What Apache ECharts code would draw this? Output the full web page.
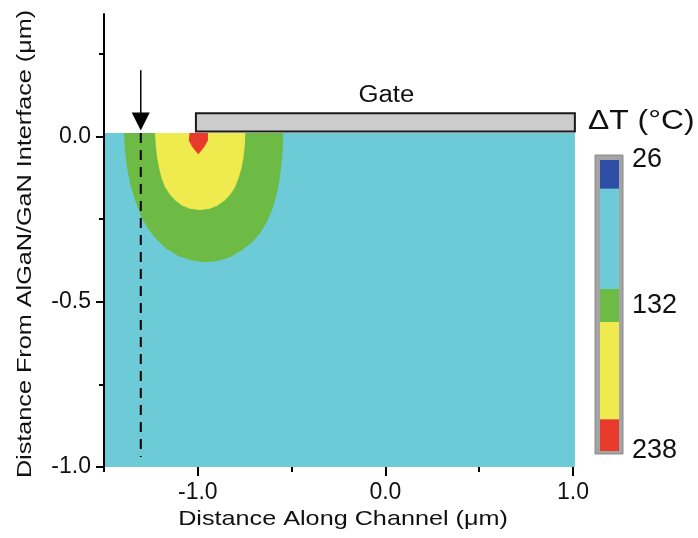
<!DOCTYPE html>
<html><head><meta charset="utf-8">
<script src="https://cdn.jsdelivr.net/npm/echarts@6/dist/echarts.min.js"></script>
<style>html,body{margin:0;padding:0;background:#fff}#c{width:698px;height:538px}</style>
</head><body><div id="c"></div>
<script>
// ---------- data ----------
const xRange = [-1.5, 1.0];
const yRange = [-1.0, 0.37];
const xTickValues = [-1.5, -1.0, -0.5, 0.0, 0.5, 1.0];
const xLabelValues = [-1.0, 0.0, 1.0];
const yTickValues = [-1.0, -0.75, -0.5, -0.25, 0.0, 0.25];
const yLabelValues = [-1.0, -0.5, 0.0];
const xTitle = 'Distance Along Channel (\u03bcm)';
const yTitle = 'Distance From AlGaN/GaN Interface (\u03bcm)';

// channel (lowest temperature band fills the whole GaN region)
const channelX = [-1.5, 1.01];
const channelY = [-1.0, 0.01];

// contour boundaries [x (um), depth (um)]
const greenBoundary = [
  [-1.3926,0.01],[-1.3883,-0.0423],[-1.3776,-0.0937],[-1.3589,-0.1480],[-1.3348,-0.1934],[-1.3053,-0.2387],
  [-1.2678,-0.2779],[-1.2250,-0.3082],[-1.1714,-0.3384],[-1.1071,-0.3610],[-1.0375,-0.3746],[-0.9679,-0.3807],
  [-0.8982,-0.3776],[-0.8286,-0.3656],[-0.7643,-0.3444],[-0.7108,-0.3202],[-0.6679,-0.2931],[-0.6358,-0.2628],
  [-0.6090,-0.2296],[-0.5876,-0.1934],[-0.5688,-0.1480],[-0.5554,-0.0937],[-0.5474,-0.0423],[-0.5447,0.01]];
const yellowBoundary = [
  [-1.2287,0.01],[-1.2239,-0.0272],[-1.2169,-0.0634],[-1.2062,-0.0967],[-1.1928,-0.1269],[-1.1741,-0.1541],
  [-1.1500,-0.1752],[-1.1205,-0.1934],[-1.0857,-0.2085],[-1.0428,-0.2190],[-0.9893,-0.2230],[-0.9357,-0.2190],
  [-0.8929,-0.2085],[-0.8554,-0.1934],[-0.8259,-0.1752],[-0.8018,-0.1541],[-0.7831,-0.1269],[-0.7670,-0.0967],
  [-0.7563,-0.0634],[-0.7493,-0.0272],[-0.7467,0.01]];
const redBoundary = [[-1.044,0.01],[-1.048,-0.012],[-1.032,-0.030],[-1.011,-0.045],[-0.997,-0.054],[-0.984,-0.045],[-0.963,-0.030],[-0.946,-0.012],[-0.946,0.01]];

// gate
const gateX = [-1.01, 1.01];
const gateY = [0.015, 0.07];
const gateLabel = 'Gate';

// probe position (arrow + dashed line)
const probeX = -1.304;
const arrowY = [0.2, 0.018];
const dashY = [0.01, -0.97];

// colour bar
const cbRange = [26, 238];
const cbBreaks = [26, 47, 120, 144, 215, 238];
const cbTickValues = [26, 132, 238];
const cbTitle = '\u0394T (\u00b0C)';
const panelLabel = '(b)';

// ---------- styles ----------
const C_BLUE = '#2f4fa7', C_CYAN = '#6ccbd7', C_GREEN = '#6dbb45', C_YELLOW = '#efea4e', C_RED = '#e83a2a';
const cbColors = [C_BLUE, C_CYAN, C_GREEN, C_YELLOW, C_RED];
const FONT = 'Liberation Sans, Arial, Helvetica, sans-serif';

function polySeries(points, color, z) {
  return {
    type: 'custom', xAxisIndex: 0, yAxisIndex: 0, z: z, silent: true,
    data: [points[0]],
    renderItem: function (params, api) {
      return { type: 'polygon', shape: { points: points.map(p => api.coord(p)) }, style: { fill: color } };
    }
  };
}

const tickStyle = { color: '#000', width: 2 };
const chart = echarts.init(document.getElementById('c'), null, { renderer: 'canvas' });
const option = {
  animation: false,
  backgroundColor: '#fff',
  textStyle: { fontFamily: FONT },
  grid: [
    { left: 104, right: 125, top: 14, bottom: 71 },
    { left: 600, width: 19, top: 160, height: 291 }
  ],
  xAxis: [
    { gridIndex: 0, type: 'value', min: xRange[0], max: xRange[1], position: 'bottom', z: 10,
      axisLine: { show: false, onZero: false },
      axisTick: { show: true, customValues: xTickValues, length: 5, lineStyle: tickStyle },
      axisLabel: { customValues: xLabelValues, formatter: v => v.toFixed(1), fontSize: 23, color: '#111', margin: 14, fontFamily: FONT },
      splitLine: { show: false } },
    { gridIndex: 0, type: 'value', min: xRange[0], max: xRange[1], position: 'bottom', z: 10,
      axisLine: { show: false, onZero: false },
      axisTick: { show: true, customValues: xLabelValues, length: 9, lineStyle: tickStyle },
      axisLabel: { show: false }, splitLine: { show: false } },
    { gridIndex: 1, type: 'value', min: 0, max: 1, show: false }
  ],
  yAxis: [
    { gridIndex: 0, type: 'value', min: yRange[0], max: yRange[1], position: 'left', z: 10,
      axisLine: { show: true, onZero: false, lineStyle: { color: '#000', width: 2 } },
      axisTick: { show: true, customValues: yTickValues, length: 5, lineStyle: tickStyle },
      axisLabel: { customValues: yLabelValues, formatter: v => v.toFixed(1), fontSize: 23, color: '#111', margin: 13, fontFamily: FONT },
      splitLine: { show: false } },
    { gridIndex: 0, type: 'value', min: yRange[0], max: yRange[1], position: 'left', z: 10,
      axisLine: { show: false, onZero: false },
      axisTick: { show: true, customValues: yLabelValues, length: 8, lineStyle: tickStyle },
      axisLabel: { show: false }, splitLine: { show: false } },
    { gridIndex: 1, type: 'value', min: cbRange[0], max: cbRange[1], inverse: true, position: 'right',
      axisLine: { show: false, onZero: false }, axisTick: { show: false }, splitLine: { show: false },
      axisLabel: { customValues: cbTickValues, fontSize: 27, color: '#111', margin: 13, fontFamily: FONT } }
  ],
  graphic: [
    { type: 'text', x: 25, y: 244, rotation: Math.PI / 2, scaleX: 1.2,
      style: { text: yTitle, fontSize: 21, fill: '#111', fontFamily: FONT, textAlign: 'center', textVerticalAlign: 'middle' } },
    { type: 'text', x: 343, y: 519, scaleX: 1.2,
      style: { text: xTitle, fontSize: 21, fill: '#111', fontFamily: FONT, textAlign: 'center', textVerticalAlign: 'middle' } },
    { type: 'text', x: 588, y: 122, scaleX: 1.18,
      style: { text: cbTitle, fontSize: 27, fill: '#111', fontFamily: FONT, textAlign: 'left', textVerticalAlign: 'middle' } },
    { type: 'text', x: 500, y: 433,
      style: { text: panelLabel, fontSize: 19, fontWeight: 'bold', fill: '#111', fontFamily: FONT, textAlign: 'center', textVerticalAlign: 'middle' } }
  ],
  series: [
    { type: 'custom', xAxisIndex: 0, yAxisIndex: 0, z: 1, silent: true,
      data: [[channelX[0], channelY[0], channelX[1], channelY[1]]],
      renderItem: function (params, api) {
        const p0 = api.coord([api.value(0), api.value(3)]);
        const p1 = api.coord([api.value(2), api.value(1)]);
        return { type: 'rect', shape: { x: p0[0], y: p0[1], width: p1[0] - p0[0], height: p1[1] - p0[1] }, style: { fill: C_CYAN } };
      } },
    polySeries(greenBoundary, C_GREEN, 2),
    polySeries(yellowBoundary, C_YELLOW, 3),
    polySeries(redBoundary, C_RED, 4),
    { type: 'line', xAxisIndex: 0, yAxisIndex: 0, z: 5, silent: true, symbol: 'none',
      data: [[probeX, dashY[0]], [probeX, dashY[1]]],
      lineStyle: { color: '#000', width: 2, type: [10, 7] } },
    { type: 'custom', xAxisIndex: 0, yAxisIndex: 0, z: 6, silent: true,
      data: [[probeX, arrowY[0], arrowY[1]]],
      renderItem: function (params, api) {
        const top = api.coord([api.value(0), api.value(1)]);
        const tip = api.coord([api.value(0), api.value(2)]);
        return { type: 'group', children: [
          { type: 'line', shape: { x1: top[0], y1: top[1], x2: tip[0], y2: tip[1] - 10 }, style: { stroke: '#000', lineWidth: 1.5 } },
          { type: 'polygon', shape: { points: [tip, [tip[0] - 9, tip[1] - 18], [tip[0] + 9, tip[1] - 18]] }, style: { fill: '#000' } }
        ] };
      } },
    { type: 'custom', xAxisIndex: 0, yAxisIndex: 0, z: 7, silent: true,
      data: [[gateX[0], gateY[0], gateX[1], gateY[1]]],
      renderItem: function (params, api) {
        const p0 = api.coord([api.value(0), api.value(3)]);
        const p1 = api.coord([api.value(2), api.value(1)]);
        return { type: 'group', children: [
          { type: 'rect', shape: { x: p0[0], y: p0[1], width: p1[0] - p0[0], height: p1[1] - p0[1] }, style: { fill: '#cccccc', stroke: '#1a1a1a', lineWidth: 2 } },
          { type: 'text', x: (p0[0] + p1[0]) / 2 + 1, y: p0[1] - 6, scaleX: 1.12,
            style: { text: gateLabel, x: 0, y: 0, fontSize: 23, fill: '#111', fontFamily: FONT, textAlign: 'center', textVerticalAlign: 'bottom' } }
        ] };
      } },
    // colour bar frame
    { type: 'custom', xAxisIndex: 2, yAxisIndex: 2, z: 1, silent: true,
      data: [[0, cbRange[0], 1, cbRange[1]]],
      renderItem: function (params, api) {
        const p0 = api.coord([api.value(0), api.value(1)]);
        const p1 = api.coord([api.value(2), api.value(3)]);
        return { type: 'rect', shape: { x: p0[0] - 5, y: p0[1] - 5, width: p1[0] - p0[0] + 9, height: p1[1] - p0[1] + 8 }, style: { fill: '#a4a4a4', stroke: '#8a8a8a', lineWidth: 1 } };
      } },
    { type: 'custom', xAxisIndex: 2, yAxisIndex: 2, z: 2, silent: true,
      data: cbBreaks.slice(0, -1).map((b, i) => [0, b, 1, cbBreaks[i + 1], i]),
      renderItem: function (params, api) {
        const p0 = api.coord([api.value(0), api.value(1)]);
        const p1 = api.coord([api.value(2), api.value(3)]);
        return { type: 'rect', shape: { x: p0[0], y: p0[1], width: p1[0] - p0[0], height: p1[1] - p0[1] }, style: { fill: cbColors[api.value(4)] } };
      } }
  ]
};
chart.setOption(option);
</script>
</body></html>
